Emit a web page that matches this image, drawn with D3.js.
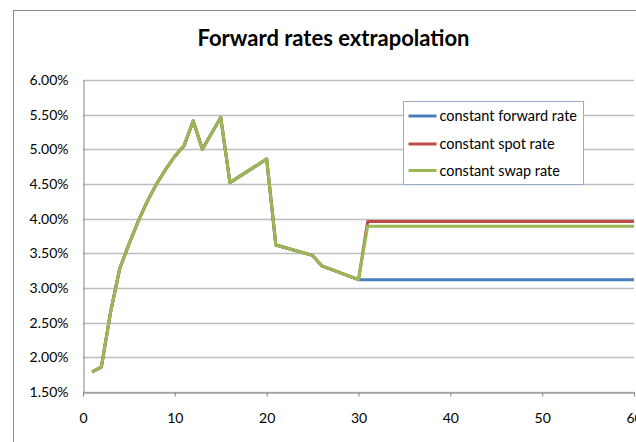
<!DOCTYPE html>
<html>
<head>
<meta charset="utf-8">
<script src="https://cdn.jsdelivr.net/npm/d3@7"></script>
<style>
  html, body { margin: 0; padding: 0; background: #ffffff; overflow: hidden; }
  svg { display: block; }
  text { font-family: Lato, "Open Sans", sans-serif; fill: #000; }
</style>
</head>
<body>
<svg id="chart" width="636" height="442"></svg>
<script>
// Maturities (years) and forward rates (%) shared by all three methods up to year 30
const sharedYears = [1, 2, 3, 4, 5, 6, 7, 8, 9, 10, 11, 12, 13, 15, 16, 20, 21, 25, 26, 30];
const sharedRates = [1.79, 1.86, 2.65, 3.28, 3.63, 3.96, 4.25, 4.50, 4.71, 4.90, 5.05, 5.41, 5.00, 5.46, 4.52, 4.86, 3.62, 3.47, 3.32, 3.12];

// Extrapolated segment beyond the last liquid point, one per method
const forwardTailYears = [60];
const forwardTailRates = [3.12];
const spotTailYears = [31, 60];
const spotTailRates = [3.96, 3.96];
const swapTailYears = [31, 60];
const swapTailRates = [3.89, 3.89];

const seriesNames = ["constant forward rate", "constant spot rate", "constant swap rate"];
const seriesColors = ["#4A7EBB", "#BE4B48", "#98B954"];

const xTicks = [0, 10, 20, 30, 40, 50, 60];
const yTicks = [1.5, 2.0, 2.5, 3.0, 3.5, 4.0, 4.5, 5.0, 5.5, 6.0];

const titleText = "Forward rates extrapolation";

// ---------------------------------------------------------------
const svg = d3.select("#chart");

const plot = { left: 83, right: 634, top: 80, bottom: 392 };

const x = d3.scaleLinear().domain([0, 60]).range([plot.left, plot.right]);
const y = d3.scaleLinear().domain([1.5, 6.0]).range([plot.bottom, plot.top]);

function build(tailYears, tailRates) {
  const pts = sharedYears.map((t, i) => ({ t, r: sharedRates[i] }));
  tailYears.forEach((t, i) => pts.push({ t, r: tailRates[i] }));
  return pts;
}

const series = [
  build(forwardTailYears, forwardTailRates),
  build(spotTailYears, spotTailRates),
  build(swapTailYears, swapTailRates)
];

// Chart frame
svg.append("rect")
  .attr("x", 13.5).attr("y", 10.5)
  .attr("width", 700).attr("height", 500)
  .attr("fill", "#fff")
  .attr("stroke", "#8a8a8a")
  .attr("stroke-width", 1);

// Title
svg.append("text")
  .attr("x", 333.5)
  .attr("y", 46)
  .attr("text-anchor", "middle")
  .style("font-size", "22px")
  .style("font-weight", "bold")
  .text(titleText);

// Horizontal gridlines
svg.append("g")
  .selectAll("line")
  .data(yTicks)
  .join("line")
  .attr("x1", plot.left)
  .attr("x2", plot.right)
  .attr("y1", d => Math.round(y(d)) + 0.5)
  .attr("y2", d => Math.round(y(d)) + 0.5)
  .attr("stroke", "#bdbdbd")
  .attr("stroke-width", 1.3);

// Y axis
const yAxis = d3.axisLeft(y)
  .tickValues(yTicks)
  .tickSize(0)
  .tickPadding(15)
  .tickFormat(d => d.toFixed(2) + "%");

const gy = svg.append("g")
  .attr("transform", `translate(${plot.left + 0.5},0)`)
  .call(yAxis);
gy.select(".domain").attr("stroke", "#868686").attr("stroke-width", 1);
gy.selectAll("text")
  .style("font-family", "Lato, sans-serif")
  .style("font-size", "14px")
  .attr("fill", "#000");

// X axis
const xAxis = d3.axisBottom(x)
  .tickValues(xTicks)
  .tickSizeInner(4)
  .tickSizeOuter(0)
  .tickPadding(17)
  .tickFormat(d3.format("d"));

const gx = svg.append("g")
  .attr("transform", `translate(0,${Math.round(y(1.5)) + 0.5})`)
  .call(xAxis);
gx.select(".domain").attr("stroke", "#868686").attr("stroke-width", 1);
gx.selectAll(".tick line").attr("stroke", "#868686");
gx.selectAll("text")
  .style("font-family", "Lato, sans-serif")
  .style("font-size", "14px")
  .attr("fill", "#000");

// Series lines
const line = d3.line().x(d => x(d.t)).y(d => y(d.r));

svg.append("g")
  .selectAll("path")
  .data(series)
  .join("path")
  .attr("d", line)
  .attr("fill", "none")
  .attr("stroke", (d, i) => seriesColors[i])
  .attr("stroke-width", 3)
  .attr("stroke-linejoin", "round");

// Legend
const legend = svg.append("g").attr("transform", "translate(403.5,101.5)");
legend.append("rect")
  .attr("width", 180)
  .attr("height", 83)
  .attr("fill", "#fff")
  .attr("stroke", "#9aaccb")
  .attr("stroke-width", 1);

const rowY = [14.5, 42.5, 69];
const items = legend.selectAll("g.item")
  .data(seriesNames)
  .join("g")
  .attr("class", "item")
  .attr("transform", (d, i) => `translate(0,${rowY[i]})`);

items.append("line")
  .attr("x1", 5).attr("x2", 33)
  .attr("y1", 0).attr("y2", 0)
  .attr("stroke", (d, i) => seriesColors[i])
  .attr("stroke-width", 3);

items.append("text")
  .attr("x", 36)
  .attr("y", 5)
  .style("font-size", "14.5px")
  .text(d => d);
</script>
</body>
</html>
